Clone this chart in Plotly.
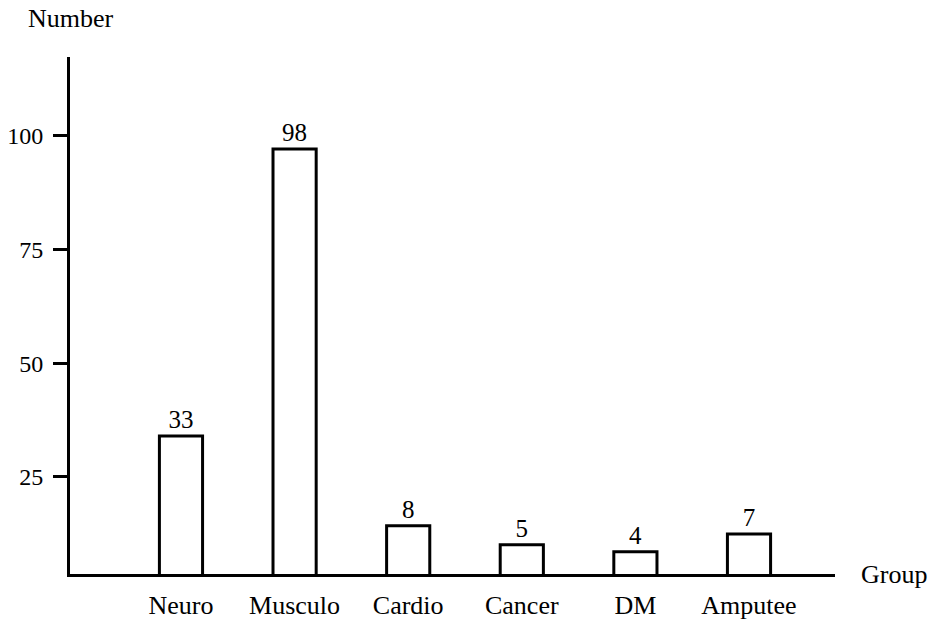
import plotly.graph_objects as go

groups = ["Neuro", "Musculo", "Cardio", "Cancer", "DM", "Amputee"]
counts = [33, 98, 8, 5, 4, 7]                 # printed numbers
bar_heights = [34, 97, 14.3, 10.1, 8.6, 12.5]  # drawn heights
y_ticks = [25, 50, 75, 100]

FONT = "Liberation Serif"

fig = go.Figure(
    go.Bar(
        x=groups,
        y=bar_heights,
        text=[str(c) for c in counts],
        textposition="outside",
        constraintext="none",
        cliponaxis=False,
        textfont=dict(family=FONT, size=25, color="black"),
        marker=dict(color="white", line=dict(color="black", width=3)),
        width=0.38,
        showlegend=False,
    )
)

fig.update_layout(
    width=935,
    height=630,
    margin=dict(l=70, r=100, t=57, b=56, autoexpand=False),
    paper_bgcolor="white",
    plot_bgcolor="white",
    font=dict(family=FONT, size=24, color="black"),
    xaxis=dict(
        type="category",
        range=[-0.977, 5.757],
        showline=True,
        linecolor="black",
        linewidth=3,
        ticks="",
        showgrid=False,
        zeroline=False,
        automargin=False,
        ticklabelstandoff=6,
        tickfont=dict(family=FONT, size=26, color="black"),
    ),
    yaxis=dict(
        range=[3.7, 117.2],
        tickvals=y_ticks,
        ticktext=[str(t) for t in y_ticks],
        showline=True,
        linecolor="black",
        linewidth=3,
        ticks="outside",
        ticklen=14,
        tickwidth=3,
        tickcolor="black",
        showgrid=False,
        zeroline=False,
        automargin=False,
        ticklabelstandoff=5,
        tickfont=dict(family=FONT, size=24, color="black"),
    ),
    annotations=[
        dict(text="Number", xref="paper", yref="paper", x=-0.057, y=1.0,
             xanchor="left", yanchor="bottom", yshift=22, showarrow=False,
             font=dict(family=FONT, size=26, color="black")),
        dict(text="Group", xref="paper", yref="paper", x=1.032, y=0.0,
             xanchor="left", yanchor="middle", showarrow=False,
             font=dict(family=FONT, size=26, color="black")),
    ],
)

fig.write_html(
    "out.html",
    config={"displayModeBar": False},
    post_script="document.body.style.margin='0px';",
)
